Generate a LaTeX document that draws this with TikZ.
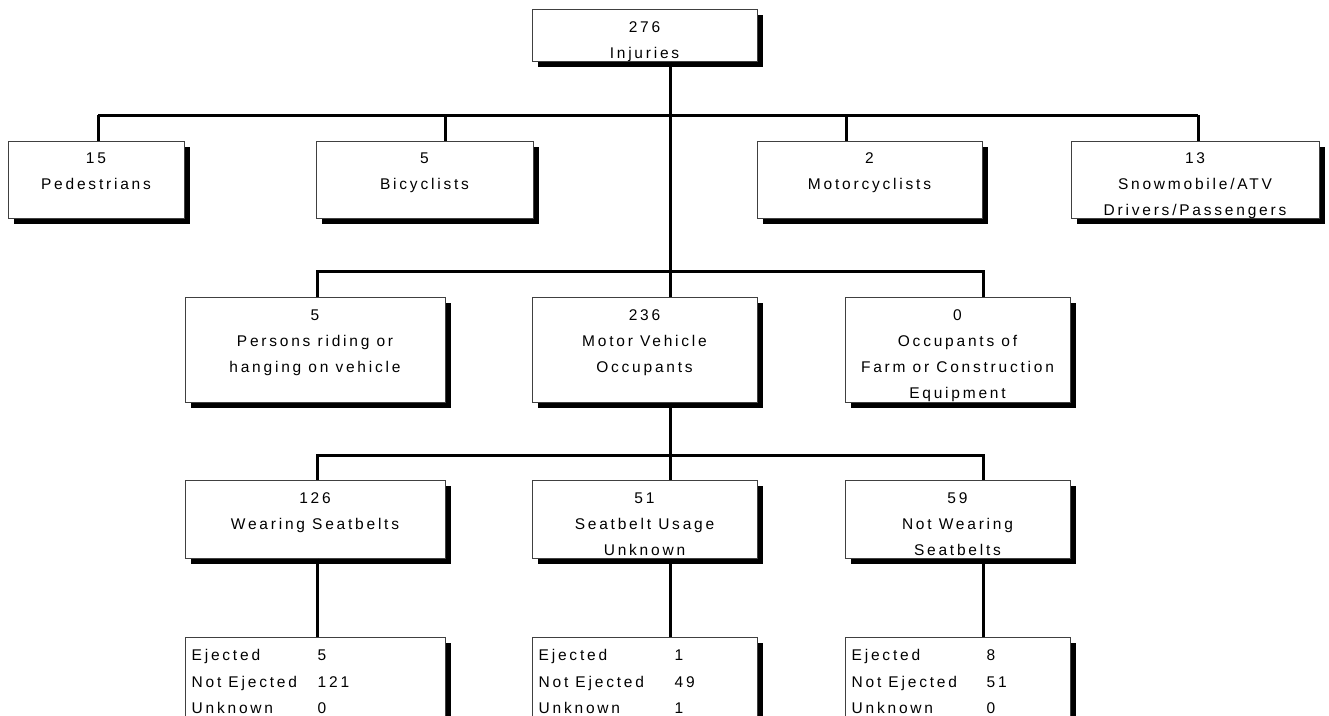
\documentclass[tikz,border=0pt]{standalone}
\usepackage{fontspec}
\setmainfont{Liberation Sans}[LetterSpace=18]
\usepackage{tikz}
\usetikzlibrary{positioning,shadows}

\begin{document}
\begin{tikzpicture}[
  x=1pt, y=-1pt,
  font=\fontsize{15.5}{26}\selectfont,
  % every box carries a solid black drop shadow, down and to the right
  orgbox/.style={draw=black!75,line width=1pt,fill=white,inner sep=0pt,
    drop shadow={shadow xshift=6pt,shadow yshift=-6pt,opacity=1,fill=black}},
  txt/.style={align=center,anchor=north,inner sep=0pt},
  cell/.style={anchor=base west,inner sep=0pt},
  wire/.style={line width=3pt},
]
\useasboundingbox (0,0) rectangle (1329,715);
\clip (0,0) rectangle (1329,715);

% =========== level 0: all injuries ==========================================
\node[orgbox,minimum width=225,minimum height=52] (inj) at (644.5,35) {};
\node[txt] (injt) at ([yshift=-13pt]inj.north) {276\\Injuries};

% =========== level 1: the four road users that are not in a motor vehicle ===
\node[orgbox,minimum width=176,minimum height=77] (ped)  at (96,179.5)   {};
\node[orgbox,minimum width=217,minimum height=77] (bic)  at (424.5,179.5) {};
\node[orgbox,minimum width=225,minimum height=77] (mot)  at (869.5,179.5) {};
\node[orgbox,minimum width=248,minimum height=77] (snow) at (1195,179.5)  {};
\node[txt] (pedt)  at ([yshift=-12pt]ped.north)  {15\\Pedestrians};
\node[txt] (bict)  at ([yshift=-12pt]bic.north)  {5\\Bicyclists};
\node[txt] (mott)  at ([yshift=-12pt]mot.north)  {2\\Motorcyclists};
\node[txt] (snowt) at ([yshift=-12pt]snow.north) {13\\Snowmobile/ATV\\Drivers/Passengers};

% =========== level 2: on or in a vehicle ====================================
\node[orgbox,minimum width=260,minimum height=105] (per)  at (315,349.5)   {};
\node[orgbox,minimum width=225,minimum height=105] (mvo)  at (644.5,349.5) {};
\node[orgbox,minimum width=225,minimum height=105] (farm) at (957.5,349.5) {};
\node[txt] (pert)  at ([yshift=-13pt]per.north)  {5\\Persons riding or\\hanging on vehicle};
\node[txt] (mvot)  at ([yshift=-13pt]mvo.north)  {236\\Motor Vehicle\\Occupants};
\node[txt] (farmt) at ([yshift=-13pt]farm.north) {0\\Occupants of\\Farm or Construction\\Equipment};

% =========== level 3: seatbelt use ==========================================
\node[orgbox,minimum width=260,minimum height=78] (wsb) at (315,519)   {};
\node[orgbox,minimum width=225,minimum height=78] (sbu) at (644.5,519) {};
\node[orgbox,minimum width=225,minimum height=78] (nws) at (957.5,519) {};
\node[txt] (wsbt) at ([yshift=-13pt]wsb.north) {126\\Wearing Seatbelts};
\node[txt] (sbut) at ([yshift=-13pt]sbu.north) {51\\Seatbelt Usage\\Unknown};
\node[txt] (nwst) at ([yshift=-13pt]nws.north) {59\\Not Wearing\\Seatbelts};

% =========== level 4: ejection, runs off the bottom of the page =============
\node[orgbox,minimum width=260,minimum height=110] (wsbe) at (315,692)   {};
\node[orgbox,minimum width=225,minimum height=110] (sbue) at (644.5,692) {};
\node[orgbox,minimum width=225,minimum height=110] (nwse) at (957.5,692) {};
\foreach \b/\dx/\ej/\nej/\unk in {wsbe/133/5/121/0, sbue/143/1/49/1, nwse/142/8/51/0}{
  \node[cell] (\b-l1) at ([xshift=7pt,yshift=-24pt]\b.north west) {Ejected};
  \node[cell] (\b-l2) at ([yshift=-26.5pt]\b-l1.base west) {Not Ejected};
  \node[cell] (\b-l3) at ([yshift=-26.5pt]\b-l2.base west) {Unknown};
  \node[cell] (\b-v1) at ([xshift=\dx pt,yshift=-24pt]\b.north west) {\ej};
  \node[cell] (\b-v2) at ([yshift=-26.5pt]\b-v1.base west) {\nej};
  \node[cell] (\b-v3) at ([yshift=-26.5pt]\b-v2.base west) {\unk};
}

% =========== the tree lines =================================================
\coordinate (trunk) at (670,115);
\draw[wire] (trunk |- inj.south) -- (trunk |- mvo.north);
\foreach \n/\dx in {ped/98, bic/445, mot/846, snow/1198}{
  \coordinate (j-\n) at (\dx,115);
  \draw[wire] (j-\n) -- (j-\n |- \n.north);
}
\draw[wire] (j-ped) -- (j-snow);
\coordinate (j-per)  at (317,271);
\coordinate (j-farm) at (983,271);
\draw[wire] (j-per |- per.north) -- (j-per) -- (j-farm) -- (j-farm |- farm.north);
\draw[wire] (trunk |- mvo.south) -- (trunk |- sbu.north);
\coordinate (j-wsb) at (317,455);
\coordinate (j-nws) at (983,455);
\draw[wire] (j-wsb |- wsb.north) -- (j-wsb) -- (j-nws) -- (j-nws |- nws.north);
\foreach \a/\b/\dx in {wsb/wsbe/317, sbu/sbue/670, nws/nwse/983}{
  \draw[wire] (\dx,0 |- \a.south) -- (\dx,0 |- \b.north);
}

\end{tikzpicture}
\end{document}
